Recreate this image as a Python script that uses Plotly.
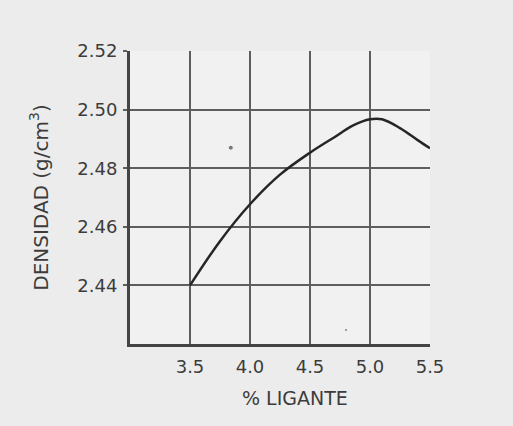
import plotly.graph_objects as go

# Data
ligante = [3.5, 3.75, 4.0, 4.25, 4.5, 4.7, 4.86, 5.0, 5.1, 5.25, 5.4, 5.5]
densidad = [2.440, 2.4551, 2.4677, 2.4778, 2.4853, 2.4905, 2.4946, 2.4967,
            2.4967, 2.4937, 2.4895, 2.4868]

speck_x = [3.84, 4.8]
speck_y = [2.487, 2.4248]

x_ticks = [3.5, 4.0, 4.5, 5.0, 5.5]
x_ticklabels = ["3.5", "4.0", "4.5", "5.0", "5.5"]
y_ticks = [2.44, 2.46, 2.48, 2.50, 2.52]
y_ticklabels = ["2.44", "2.46", "2.48", "2.50", "2.52"]

grid_color = "#5e5e5e"
text_color = "#3c3c3c"
font_family = "'DejaVu Sans', sans-serif"

fig = go.Figure()
fig.add_trace(go.Scatter(
    x=ligante, y=densidad, mode="lines",
    line=dict(color="#262626", width=2.5, shape="spline", smoothing=1.0),
    showlegend=False, hoverinfo="skip",
))
fig.add_trace(go.Scatter(
    x=speck_x, y=speck_y, mode="markers",
    marker=dict(color="#444444", size=[5, 3]),
    showlegend=False, hoverinfo="skip",
))

fig.update_layout(
    width=513, height=426,
    margin=dict(l=130, r=83, t=51, b=82),
    paper_bgcolor="#ececec",
    plot_bgcolor="#f1f1f1",
    font=dict(family=font_family, color=text_color, size=18),
    xaxis=dict(
        range=[3.0, 5.5], tickvals=x_ticks, ticktext=x_ticklabels,
        showgrid=True, gridcolor=grid_color, gridwidth=2,
        showline=True, linecolor="#444444", linewidth=3, mirror=False,
        zeroline=False, ticks="", ticklabelstandoff=4,
        tickfont=dict(size=18, color=text_color),
    ),
    yaxis=dict(
        range=[2.42, 2.52], tickvals=y_ticks, ticktext=y_ticklabels,
        showgrid=True, gridcolor=grid_color, gridwidth=2,
        showline=True, linecolor="#444444", linewidth=3,
        zeroline=False, ticks="outside", ticklen=4, tickcolor=grid_color,
        tickwidth=2, ticklabelstandoff=2,
        tickfont=dict(size=18, color=text_color),
        title=dict(text="DENSIDAD (g/cm<sup>3</sup>)", standoff=24,
                   font=dict(size=20, color=text_color)),
    ),
    annotations=[dict(
        text="% LIGANTE", x=0.55, y=-0.186, xref="paper", yref="paper",
        xanchor="center", yanchor="middle",
        showarrow=False, font=dict(size=19, color=text_color),
    )],
)

fig.write_html(
    "out.html",
    config={"displayModeBar": False},
    post_script="document.body.style.margin='0';document.body.style.background='#ececec';",
)
